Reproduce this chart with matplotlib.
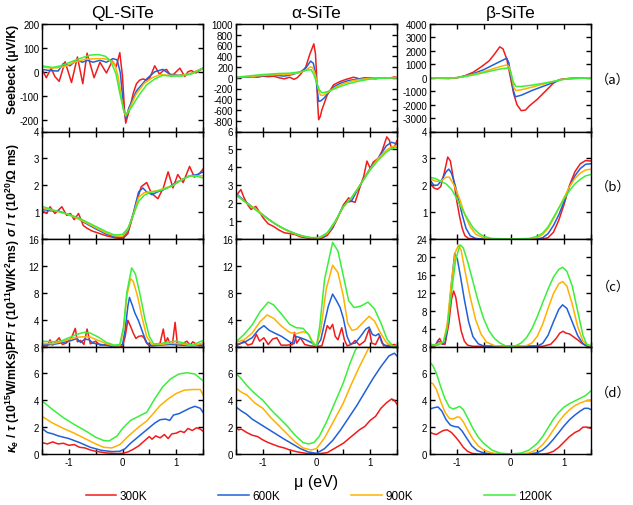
import matplotlib
matplotlib.use("Agg")
import matplotlib.pyplot as plt
import numpy as np

plt.rcParams['font.family'] = ['Liberation Sans', 'DejaVu Sans']
plt.rcParams['axes.unicode_minus'] = False
plt.rcParams['mathtext.fontset'] = 'custom'
plt.rcParams['mathtext.rm'] = 'Liberation Sans:bold'
plt.rcParams['mathtext.it'] = 'Liberation Sans:italic:bold'
plt.rcParams['mathtext.bf'] = 'Liberation Sans:bold'

temps = ['300K', '600K', '900K', '1200K']
colors = ['#f01c1c', '#2060d8', '#ffb000', '#3cee3c']
materials = ['QL-SiTe', 'α-SiTe', 'β-SiTe']
row_tags = ['（a）', '（b）', '（c）', '（d）']

# ---------------- QL-SiTe ----------------
ql_S_300 = [(-1.5,10),(-1.42,-25),(-1.33,15),(-1.26,-20),(-1.18,-40),(-1.07,42),(-0.95,-45),(-0.84,62),(-0.74,-50),(-0.66,78),(-0.53,-25),(-0.42,40),(-0.3,-5),(-0.19,45),(-0.12,20),(-0.05,80),(0.0,-20),(0.04,-170),(0.06,-215),(0.09,-190),(0.14,-150),(0.2,-90),(0.26,-50),(0.32,-35),(0.38,-30),(0.45,-35),(0.51,-25),(0.6,25),(0.69,-10),(0.76,5),(0.82,10),(0.91,-20),(1.0,0),(1.07,15),(1.16,-20),(1.22,0),(1.28,5),(1.37,-5),(1.43,5),(1.5,15)]
ql_S_600 = [(-1.5,10),(-1.35,5),(-1.2,3),(-1.1,35),(-0.98,25),(-0.85,50),(-0.75,40),(-0.65,48),(-0.55,40),(-0.42,48),(-0.3,40),(-0.18,55),(-0.1,50),(-0.04,-5),(0.02,-150),(0.06,-195),(0.12,-150),(0.26,-80),(0.45,-30),(0.6,0),(0.75,10),(0.88,-10),(1.05,-15),(1.25,-10),(1.4,5),(1.5,15)]
ql_S_900 = [(-1.5,20),(-1.3,15),(-1.1,20),(-0.9,40),(-0.7,52),(-0.5,55),(-0.35,55),(-0.25,50),(-0.15,35),(-0.08,-20),(-0.02,-110),(0.03,-170),(0.06,-185),(0.12,-160),(0.25,-95),(0.4,-50),(0.55,-25),(0.7,-12),(0.9,-15),(1.1,-15),(1.3,-5),(1.5,15)]
ql_S_1200 = [(-1.5,25),(-1.3,18),(-1.15,25),(-1.0,38),(-0.8,55),(-0.6,70),(-0.45,72),(-0.32,65),(-0.22,45),(-0.12,-10),(-0.05,-90),(0.02,-160),(0.07,-180),(0.15,-155),(0.3,-100),(0.45,-55),(0.6,-30),(0.75,-15),(0.9,-18),(1.1,-18),(1.3,-8),(1.5,15)]

ql_sig_300 = [(-1.5,1.05),(-1.41,0.95),(-1.35,1.2),(-1.26,0.95),(-1.13,1.2),(-1.04,0.88),(-0.97,0.95),(-0.9,0.72),(-0.82,0.95),(-0.73,0.5),(-0.66,0.4),(-0.57,0.3),(-0.45,0.22),(-0.3,0.12),(-0.15,0.05),(0.0,0.0),(0.1,0.2),(0.2,0.9),(0.28,1.5),(0.35,1.95),(0.45,2.1),(0.54,1.7),(0.66,1.5),(0.76,1.9),(0.85,2.5),(0.94,1.9),(1.03,2.4),(1.13,2.1),(1.25,2.7),(1.34,2.3),(1.44,2.45),(1.5,2.6)]
ql_sig_600 = [(-1.5,1.1),(-1.35,1.05),(-1.2,1.05),(-1.0,0.9),(-0.85,0.8),(-0.7,0.6),(-0.5,0.38),(-0.3,0.18),(-0.15,0.08),(0.0,0.05),(0.1,0.3),(0.2,0.95),(0.3,1.75),(0.38,1.9),(0.45,1.75),(0.55,1.65),(0.65,1.75),(0.75,1.82),(0.88,1.95),(1.0,2.1),(1.1,2.2),(1.25,2.35),(1.4,2.4),(1.5,2.5)]
ql_sig_900 = [(-1.5,1.15),(-1.25,1.05),(-1.0,0.9),(-0.75,0.68),(-0.5,0.42),(-0.3,0.22),(-0.15,0.12),(0.0,0.1),(0.1,0.35),(0.2,0.9),(0.3,1.55),(0.4,1.72),(0.5,1.75),(0.65,1.8),(0.8,1.9),(0.95,2.0),(1.1,2.2),(1.25,2.35),(1.4,2.35),(1.5,2.35)]
ql_sig_1200 = [(-1.5,1.22),(-1.25,1.05),(-1.0,0.92),(-0.75,0.72),(-0.5,0.47),(-0.3,0.27),(-0.15,0.15),(0.0,0.17),(0.1,0.4),(0.2,0.88),(0.3,1.4),(0.4,1.62),(0.5,1.72),(0.7,1.8),(0.9,1.95),(1.1,2.2),(1.25,2.35),(1.4,2.33),(1.5,2.27)]

ql_pf_300 = [(-1.5,0.1),(-1.4,0.1),(-1.35,1.0),(-1.3,0.2),(-1.18,1.3),(-1.12,0.3),(-1.05,0.5),(-0.95,1.3),(-0.88,2.7),(-0.84,0.7),(-0.78,0.9),(-0.72,0.3),(-0.66,2.6),(-0.6,0.4),(-0.5,0.8),(-0.42,0.2),(-0.3,0.3),(-0.2,0.05),(0.0,0.0),(0.05,1.5),(0.1,3.9),(0.15,3.0),(0.2,2.0),(0.25,1.2),(0.3,1.5),(0.36,1.6),(0.4,1.3),(0.45,0.5),(0.5,0.1),(0.6,0.2),(0.7,0.5),(0.76,2.6),(0.8,0.5),(0.84,1.3),(0.88,0.5),(0.93,0.3),(0.98,3.6),(1.02,0.5),(1.1,0.3),(1.2,0.8),(1.26,0.2),(1.31,0.7),(1.4,0.2),(1.5,0.5)]
ql_pf_600 = [(-1.5,0.2),(-1.3,0.3),(-1.1,0.6),(-0.95,0.9),(-0.85,1.2),(-0.78,0.6),(-0.7,1.1),(-0.62,1.0),(-0.55,0.5),(-0.4,0.3),(-0.25,0.1),(-0.1,0.0),(0.0,0.3),(0.05,2.5),(0.1,6.0),(0.13,7.3),(0.18,6.2),(0.23,5.0),(0.3,3.8),(0.38,2.0),(0.45,0.6),(0.55,0.1),(0.7,0.2),(0.9,0.3),(1.1,0.2),(1.3,0.1),(1.5,0.2)]
ql_pf_900 = [(-1.5,0.5),(-1.3,0.4),(-1.1,0.8),(-0.9,1.3),(-0.75,1.45),(-0.6,1.4),(-0.45,0.9),(-0.3,0.4),(-0.15,0.1),(-0.05,0.1),(0.02,2.5),(0.08,7.5),(0.15,10.1),(0.2,9.7),(0.28,7.5),(0.36,4.5),(0.45,1.5),(0.55,0.3),(0.7,0.3),(0.9,0.5),(1.1,0.4),(1.3,0.1),(1.5,0.5)]
ql_pf_1200 = [(-1.5,0.8),(-1.3,0.7),(-1.15,0.8),(-1.0,1.3),(-0.85,1.8),(-0.72,2.1),(-0.6,2.0),(-0.45,1.4),(-0.3,0.6),(-0.15,0.2),(-0.05,0.3),(0.02,3.0),(0.08,8.0),(0.17,11.7),(0.24,10.8),(0.32,8.0),(0.42,4.0),(0.5,1.5),(0.58,0.4),(0.7,0.4),(0.85,0.7),(1.0,0.8),(1.15,0.5),(1.3,0.2),(1.5,0.9)]

ql_k_300 = [(-1.5,0.85),(-1.4,0.75),(-1.3,0.9),(-1.2,0.75),(-1.1,0.8),(-1.0,0.65),(-0.9,0.7),(-0.8,0.5),(-0.7,0.45),(-0.6,0.3),(-0.5,0.2),(-0.3,0.08),(-0.1,0.03),(0.0,0.05),(0.1,0.15),(0.2,0.35),(0.3,0.6),(0.4,0.95),(0.5,1.3),(0.55,1.1),(0.62,1.35),(0.7,1.2),(0.78,1.45),(0.85,1.15),(0.92,1.5),(1.0,1.55),(1.08,1.7),(1.15,1.6),(1.22,1.9),(1.3,1.75),(1.38,1.95),(1.45,1.85),(1.5,1.7)]
ql_k_600 = [(-1.5,1.9),(-1.4,1.6),(-1.3,1.5),(-1.2,1.35),(-1.0,1.15),(-0.8,0.85),(-0.6,0.5),(-0.4,0.28),(-0.2,0.18),(-0.05,0.2),(0.05,0.4),(0.15,0.8),(0.3,1.3),(0.45,1.8),(0.6,2.3),(0.7,2.55),(0.8,2.6),(0.88,2.5),(0.95,2.9),(1.05,3.0),(1.15,3.2),(1.25,3.4),(1.35,3.55),(1.45,3.4),(1.5,3.1)]
ql_k_900 = [(-1.5,2.8),(-1.3,2.3),(-1.1,1.9),(-0.9,1.55),(-0.7,1.15),(-0.5,0.75),(-0.35,0.5),(-0.2,0.45),(-0.05,0.7),(0.1,1.3),(0.3,2.0),(0.45,2.45),(0.55,2.9),(0.7,3.6),(0.85,4.1),(1.0,4.5),(1.15,4.75),(1.3,4.8),(1.45,4.8),(1.5,4.4)]
ql_k_1200 = [(-1.5,3.95),(-1.3,3.3),(-1.1,2.7),(-0.9,2.2),(-0.7,1.75),(-0.5,1.25),(-0.35,1.0),(-0.25,0.97),(-0.1,1.35),(0.0,1.9),(0.15,2.5),(0.3,2.8),(0.45,3.1),(0.6,4.1),(0.75,5.0),(0.9,5.6),(1.05,5.95),(1.2,6.05),(1.35,5.95),(1.5,5.45)]

# ---------------- alpha-SiTe ----------------
al_S_300 = [(-1.5,0),(-1.35,10),(-1.2,20),(-1.1,10),(-1.0,30),(-0.9,20),(-0.8,30),(-0.7,0),(-0.6,-20),(-0.5,10),(-0.42,-30),(-0.36,0),(-0.3,60),(-0.2,200),(-0.12,450),(-0.05,630),(-0.02,450),(0.0,100),(0.02,-450),(0.04,-780),(0.07,-720),(0.1,-600),(0.2,-320),(0.32,-130),(0.44,-70),(0.55,-30),(0.69,10),(0.8,-20),(0.9,0),(1.0,-10),(1.1,-20),(1.2,0),(1.35,-10),(1.45,15),(1.5,5)]
al_S_600 = [(-1.5,0),(-1.2,20),(-1.0,40),(-0.8,50),(-0.6,30),(-0.45,60),(-0.3,110),(-0.2,180),(-0.11,310),(-0.06,270),(-0.02,100),(0.01,-200),(0.04,-440),(0.08,-430),(0.14,-380),(0.22,-280),(0.32,-170),(0.45,-100),(0.6,-50),(0.8,-20),(1.0,-5),(1.2,-5),(1.5,0)]
al_S_900 = [(-1.5,5),(-1.2,25),(-1.0,45),(-0.7,60),(-0.5,65),(-0.3,100),(-0.2,140),(-0.12,200),(-0.07,190),(-0.02,50),(0.03,-200),(0.07,-320),(0.12,-330),(0.2,-280),(0.35,-180),(0.5,-110),(0.7,-50),(0.9,-20),(1.1,-5),(1.5,0)]
al_S_1200 = [(-1.5,10),(-1.2,40),(-1.0,60),(-0.7,80),(-0.5,85),(-0.3,110),(-0.18,140),(-0.1,150),(-0.05,60),(0.0,-80),(0.05,-220),(0.1,-280),(0.18,-265),(0.3,-220),(0.45,-160),(0.6,-110),(0.8,-60),(1.0,-25),(1.2,-10),(1.5,0)]

al_sig_300 = [(-1.5,2.4),(-1.41,2.76),(-1.35,2.3),(-1.28,1.9),(-1.22,1.65),(-1.13,1.82),(-1.05,1.45),(-1.0,1.2),(-0.9,0.85),(-0.8,0.7),(-0.7,0.5),(-0.6,0.35),(-0.5,0.3),(-0.4,0.25),(-0.3,0.12),(-0.15,0.05),(0.0,0.0),(0.1,0.05),(0.2,0.2),(0.3,0.6),(0.4,1.2),(0.5,1.9),(0.6,2.3),(0.66,2.1),(0.72,2.05),(0.8,2.8),(0.88,3.5),(0.94,4.35),(1.0,3.95),(1.06,4.3),(1.15,4.5),(1.22,4.9),(1.31,5.7),(1.36,5.5),(1.4,5.0),(1.46,5.2),(1.5,5.5)]
al_sig_600 = [(-1.5,2.55),(-1.35,2.15),(-1.2,1.8),(-1.0,1.35),(-0.8,0.9),(-0.6,0.55),(-0.4,0.3),(-0.2,0.1),(0.0,0.03),(0.15,0.15),(0.3,0.65),(0.45,1.55),(0.55,2.05),(0.65,2.1),(0.8,2.95),(1.0,3.95),(1.15,4.5),(1.3,5.2),(1.4,5.4),(1.5,5.3)]
al_sig_900 = [(-1.5,2.5),(-1.3,2.0),(-1.1,1.6),(-0.9,1.1),(-0.7,0.7),(-0.5,0.4),(-0.3,0.18),(-0.1,0.06),(0.05,0.05),(0.2,0.3),(0.35,0.95),(0.5,1.8),(0.65,2.3),(0.8,2.95),(1.0,3.9),(1.15,4.5),(1.3,4.95),(1.4,5.15),(1.5,5.2)]
al_sig_1200 = [(-1.5,2.45),(-1.3,2.0),(-1.1,1.55),(-0.9,1.1),(-0.7,0.72),(-0.5,0.42),(-0.3,0.2),(-0.1,0.08),(0.05,0.08),(0.2,0.35),(0.35,1.0),(0.5,1.8),(0.65,2.3),(0.8,2.95),(1.0,3.85),(1.15,4.4),(1.3,4.85),(1.4,5.05),(1.5,5.1)]

al_pf_300 = [(-1.5,0.1),(-1.42,0.4),(-1.35,0.8),(-1.28,0.2),(-1.2,0.4),(-1.12,1.8),(-1.06,0.8),(-0.98,1.3),(-0.9,0.3),(-0.82,1.1),(-0.74,1.3),(-0.66,0.2),(-0.55,0.2),(-0.45,0.3),(-0.41,2.1),(-0.37,0.5),(-0.3,1.3),(-0.22,0.3),(-0.12,0.1),(0.0,0.0),(0.1,0.1),(0.15,1.5),(0.2,3.1),(0.25,2.6),(0.3,3.3),(0.35,1.5),(0.4,1.0),(0.47,2.8),(0.52,1.0),(0.57,0.1),(0.65,0.3),(0.72,0.9),(0.8,0.2),(0.9,0.8),(0.98,2.6),(1.03,0.5),(1.1,0.3),(1.18,1.6),(1.25,0.1),(1.35,0.2),(1.45,0.3),(1.5,0.1)]
al_pf_600 = [(-1.5,0.3),(-1.35,0.6),(-1.2,1.3),(-1.08,2.5),(-0.98,3.1),(-0.88,2.4),(-0.78,2.0),(-0.65,1.5),(-0.5,0.7),(-0.42,0.4),(-0.38,1.5),(-0.3,1.3),(-0.2,1.0),(-0.1,0.6),(0.0,0.1),(0.08,1.0),(0.15,3.5),(0.22,6.0),(0.3,7.8),(0.36,7.0),(0.44,5.8),(0.5,4.2),(0.57,1.5),(0.63,0.4),(0.72,0.5),(0.82,1.5),(0.92,2.6),(0.98,2.9),(1.04,1.8),(1.1,1.6),(1.16,1.9),(1.22,0.5),(1.3,0.05),(1.5,0.0)]
al_pf_900 = [(-1.5,0.6),(-1.35,1.0),(-1.2,2.0),(-1.05,3.7),(-0.92,4.7),(-0.8,4.2),(-0.65,3.0),(-0.5,2.1),(-0.38,1.9),(-0.25,2.2),(-0.15,1.9),(-0.08,0.8),(0.0,0.1),(0.08,2.5),(0.18,8.5),(0.3,12.1),(0.4,11.0),(0.5,7.5),(0.58,3.5),(0.66,2.4),(0.75,2.6),(0.87,3.6),(0.98,4.5),(1.08,3.8),(1.18,2.2),(1.3,0.6),(1.4,0.1),(1.5,0.0)]
al_pf_1200 = [(-1.5,0.7),(-1.35,1.8),(-1.2,3.2),(-1.05,5.2),(-0.9,6.6),(-0.8,6.2),(-0.65,4.8),(-0.5,3.3),(-0.38,2.8),(-0.25,2.7),(-0.15,1.8),(-0.06,0.3),(0.0,0.1),(0.06,3.0),(0.15,10.0),(0.3,15.5),(0.4,14.2),(0.5,10.5),(0.6,6.8),(0.7,5.8),(0.82,6.0),(0.96,6.6),(1.08,5.6),(1.2,3.5),(1.32,1.0),(1.42,0.1),(1.5,0.0)]

al_k_300 = [(-1.5,1.95),(-1.45,1.8),(-1.4,1.85),(-1.3,1.6),(-1.2,1.4),(-1.1,1.3),(-1.0,1.05),(-0.9,0.85),(-0.8,0.7),(-0.7,0.55),(-0.6,0.45),(-0.5,0.3),(-0.35,0.15),(-0.2,0.05),(0.0,0.0),(0.2,0.1),(0.35,0.45),(0.5,0.8),(0.65,1.3),(0.8,1.8),(0.9,2.05),(1.0,2.5),(1.1,2.8),(1.2,3.4),(1.3,3.8),(1.4,4.1),(1.45,4.0),(1.5,3.7)]
al_k_600 = [(-1.5,3.5),(-1.4,3.2),(-1.3,2.95),(-1.2,2.6),(-1.0,2.1),(-0.8,1.6),(-0.6,1.1),(-0.45,0.75),(-0.3,0.4),(-0.15,0.15),(0.0,0.05),(0.15,0.4),(0.3,1.0),(0.45,1.8),(0.6,2.7),(0.75,3.6),(0.9,4.6),(1.05,5.6),(1.2,6.5),(1.35,7.3),(1.45,7.5),(1.5,7.3)]
al_k_900 = [(-1.5,4.9),(-1.4,4.6),(-1.3,4.4),(-1.15,3.8),(-1.0,3.4),(-0.85,2.7),(-0.7,2.1),(-0.55,1.5),(-0.4,0.9),(-0.25,0.45),(-0.1,0.3),(0.0,0.4),(0.15,1.2),(0.3,2.3),(0.5,3.8),(0.65,5.2),(0.8,6.5),(0.9,7.3),(1.0,8.1)]
al_k_1200 = [(-1.5,6.0),(-1.4,5.6),(-1.3,5.1),(-1.15,4.5),(-1.0,4.0),(-0.85,3.3),(-0.7,2.7),(-0.55,2.1),(-0.4,1.4),(-0.25,0.85),(-0.15,0.75),(-0.05,0.85),(0.05,1.3),(0.2,2.5),(0.35,3.9),(0.5,5.3),(0.62,6.7),(0.72,7.7),(0.8,8.2)]

# ---------------- beta-SiTe ----------------
be_S_300 = [(-1.5,0),(-1.3,-40),(-1.15,-50),(-1.0,0),(-0.85,150),(-0.7,400),(-0.55,800),(-0.4,1250),(-0.3,1750),(-0.2,2300),(-0.14,2150),(-0.07,1400),(0.0,0),(0.06,-1200),(0.12,-2000),(0.2,-2450),(0.28,-2400),(0.35,-2100),(0.5,-1600),(0.65,-1000),(0.8,-400),(0.9,-150),(1.0,-80),(1.2,-30),(1.35,-10),(1.5,0)]
be_S_600 = [(-1.5,0),(-1.3,-40),(-1.15,-50),(-1.0,0),(-0.85,120),(-0.7,300),(-0.5,600),(-0.3,1000),(-0.15,1300),(-0.07,1450),(-0.03,1100),(0.0,300),(0.05,-900),(0.09,-1420),(0.2,-1300),(0.4,-950),(0.6,-650),(0.8,-350),(0.95,-130),(1.1,-60),(1.3,-20),(1.5,0)]
be_S_900 = [(-1.5,0),(-1.3,-30),(-1.15,-40),(-1.0,0),(-0.85,110),(-0.7,250),(-0.5,450),(-0.3,700),(-0.15,880),(-0.07,950),(-0.03,850),(0.02,100),(0.06,-700),(0.1,-950),(0.2,-900),(0.4,-700),(0.6,-480),(0.8,-280),(0.95,-130),(1.1,-60),(1.3,-20),(1.5,0)]
be_S_1200 = [(-1.5,0),(-1.3,-20),(-1.15,-20),(-1.0,10),(-0.85,90),(-0.7,200),(-0.5,380),(-0.3,560),(-0.15,680),(-0.05,720),(0.0,500),(0.05,-300),(0.1,-650),(0.2,-650),(0.4,-550),(0.6,-420),(0.8,-270),(0.95,-140),(1.1,-80),(1.3,-40),(1.5,-20)]

be_sig_300 = [(-1.5,2.1),(-1.43,1.9),(-1.36,1.85),(-1.3,1.95),(-1.23,2.5),(-1.17,3.05),(-1.12,2.9),(-1.06,2.2),(-1.0,1.4),(-0.95,0.85),(-0.9,0.4),(-0.85,0.12),(-0.78,0.02),(-0.6,0.0),(0.6,0.0),(0.7,0.05),(0.8,0.25),(0.9,0.7),(1.0,1.3),(1.1,2.0),(1.2,2.5),(1.3,2.8),(1.4,2.92),(1.5,2.9)]
be_sig_600 = [(-1.5,2.2),(-1.43,2.0),(-1.36,2.0),(-1.28,2.2),(-1.2,2.5),(-1.15,2.6),(-1.1,2.45),(-1.03,2.0),(-0.96,1.4),(-0.9,0.9),(-0.83,0.4),(-0.75,0.12),(-0.65,0.02),(-0.5,0.0),(0.5,0.0),(0.6,0.05),(0.7,0.2),(0.8,0.5),(0.9,0.9),(1.0,1.4),(1.1,1.95),(1.2,2.35),(1.3,2.62),(1.4,2.78),(1.5,2.8)]
be_sig_900 = [(-1.5,2.25),(-1.4,2.15),(-1.3,2.15),(-1.2,2.3),(-1.14,2.3),(-1.05,2.0),(-0.95,1.5),(-0.85,0.9),(-0.75,0.45),(-0.65,0.18),(-0.5,0.04),(-0.35,0.0),(0.35,0.0),(0.5,0.05),(0.6,0.17),(0.7,0.4),(0.8,0.75),(0.9,1.15),(1.0,1.55),(1.1,1.95),(1.2,2.25),(1.3,2.45),(1.4,2.57),(1.5,2.6)]
be_sig_1200 = [(-1.5,2.3),(-1.4,2.25),(-1.3,2.15),(-1.2,2.05),(-1.1,1.85),(-1.0,1.5),(-0.9,1.1),(-0.8,0.75),(-0.7,0.42),(-0.6,0.22),(-0.5,0.1),(-0.35,0.02),(0.0,0.0),(0.35,0.02),(0.5,0.1),(0.6,0.22),(0.7,0.45),(0.8,0.8),(0.9,1.15),(1.0,1.5),(1.1,1.8),(1.2,2.05),(1.3,2.22),(1.4,2.35),(1.5,2.4)]

be_pf_300 = [(-1.5,0.2),(-1.4,0.2),(-1.36,1.2),(-1.32,1.8),(-1.27,0.5),(-1.22,0.5),(-1.15,5.0),(-1.1,10.5),(-1.06,12.4),(-1.02,11.0),(-0.97,7.0),(-0.92,3.5),(-0.86,1.2),(-0.8,0.3),(-0.7,0.05),(0.6,0.05),(0.75,0.5),(0.85,1.8),(0.92,3.0),(0.98,3.4),(1.03,3.0),(1.1,2.8),(1.18,2.1),(1.25,1.5),(1.32,0.8),(1.4,0.2),(1.5,0.0)]
be_pf_600 = [(-1.5,0.2),(-1.4,0.3),(-1.34,1.2),(-1.28,0.6),(-1.22,0.8),(-1.16,6.0),(-1.1,14.0),(-1.04,20.8),(-0.99,19.5),(-0.93,15.5),(-0.86,10.5),(-0.78,5.5),(-0.7,2.2),(-0.6,0.6),(-0.5,0.1),(0.0,0.0),(0.5,0.1),(0.6,0.7),(0.7,2.5),(0.8,5.5),(0.9,8.3),(0.97,9.3),(1.05,8.5),(1.15,5.5),(1.25,2.5),(1.35,0.6),(1.45,0.1),(1.5,0.0)]
be_pf_900 = [(-1.5,0.5),(-1.4,0.3),(-1.32,0.8),(-1.25,1.0),(-1.18,5.0),(-1.1,14.5),(-1.03,21.0),(-0.97,22.6),(-0.92,21.5),(-0.85,17.0),(-0.75,11.0),(-0.65,6.0),(-0.55,2.8),(-0.45,1.0),(-0.3,0.2),(0.0,0.0),(0.3,0.2),(0.4,0.8),(0.5,2.3),(0.6,5.0),(0.7,8.5),(0.8,11.8),(0.9,14.0),(0.97,14.5),(1.05,13.5),(1.15,9.5),(1.25,4.5),(1.35,1.2),(1.45,0.2),(1.5,0.0)]
be_pf_1200 = [(-1.5,0.4),(-1.35,0.3),(-1.25,1.0),(-1.18,4.0),(-1.1,12.0),(-1.02,19.5),(-0.94,22.7),(-0.88,22.0),(-0.8,19.0),(-0.7,14.5),(-0.6,10.0),(-0.5,6.2),(-0.4,3.5),(-0.3,1.8),(-0.2,0.8),(-0.1,0.2),(0.0,0.0),(0.1,0.2),(0.2,0.8),(0.3,2.0),(0.4,4.0),(0.5,6.7),(0.6,9.8),(0.7,12.8),(0.8,15.5),(0.9,17.2),(0.97,17.7),(1.05,16.8),(1.15,13.5),(1.25,8.0),(1.35,2.5),(1.42,0.5),(1.5,0.2)]

be_k_300 = [(-1.5,1.6),(-1.43,1.5),(-1.38,1.45),(-1.32,1.6),(-1.25,1.75),(-1.18,1.8),(-1.1,1.6),(-1.02,1.25),(-0.95,0.9),(-0.88,0.5),(-0.8,0.2),(-0.72,0.05),(-0.6,0.0),(0.6,0.0),(0.7,0.05),(0.8,0.2),(0.9,0.5),(1.0,0.9),(1.1,1.3),(1.2,1.6),(1.28,1.75),(1.35,2.0),(1.42,2.0),(1.5,1.9)]
be_k_600 = [(-1.5,3.35),(-1.42,3.45),(-1.35,3.5),(-1.28,3.2),(-1.2,2.55),(-1.12,2.15),(-1.05,2.05),(-0.97,2.0),(-0.9,1.7),(-0.82,1.2),(-0.72,0.6),(-0.62,0.25),(-0.5,0.08),(-0.35,0.0),(0.35,0.0),(0.5,0.1),(0.6,0.3),(0.7,0.65),(0.8,1.1),(0.9,1.6),(1.0,2.1),(1.1,2.55),(1.2,2.9),(1.3,3.2),(1.38,3.4),(1.45,3.4),(1.5,3.3)]
be_k_900 = [(-1.5,5.3),(-1.45,5.25),(-1.38,4.8),(-1.3,3.9),(-1.22,3.1),(-1.14,2.65),(-1.07,2.6),(-1.0,2.75),(-0.95,2.75),(-0.88,2.4),(-0.8,1.8),(-0.7,1.1),(-0.6,0.6),(-0.5,0.3),(-0.35,0.08),(-0.2,0.0),(0.2,0.0),(0.35,0.08),(0.5,0.35),(0.6,0.7),(0.7,1.2),(0.8,1.8),(0.9,2.4),(1.0,2.9),(1.1,3.3),(1.2,3.6),(1.3,3.8),(1.4,3.95),(1.5,4.0)]
be_k_1200 = [(-1.5,6.8),(-1.45,6.6),(-1.38,6.0),(-1.3,5.0),(-1.22,4.1),(-1.14,3.5),(-1.07,3.35),(-1.0,3.45),(-0.95,3.55),(-0.88,3.3),(-0.8,2.7),(-0.7,1.9),(-0.6,1.25),(-0.5,0.8),(-0.35,0.3),(-0.2,0.07),(0.0,0.0),(0.2,0.07),(0.35,0.3),(0.5,0.8),(0.6,1.3),(0.7,1.95),(0.8,2.6),(0.9,3.1),(1.0,3.5),(1.1,3.75),(1.2,3.95),(1.3,4.15),(1.4,4.35),(1.5,4.7)]

# rows x columns of curve sets
grid = [
    [[ql_S_300, ql_S_600, ql_S_900, ql_S_1200],
     [al_S_300, al_S_600, al_S_900, al_S_1200],
     [be_S_300, be_S_600, be_S_900, be_S_1200]],
    [[ql_sig_300, ql_sig_600, ql_sig_900, ql_sig_1200],
     [al_sig_300, al_sig_600, al_sig_900, al_sig_1200],
     [be_sig_300, be_sig_600, be_sig_900, be_sig_1200]],
    [[ql_pf_300, ql_pf_600, ql_pf_900, ql_pf_1200],
     [al_pf_300, al_pf_600, al_pf_900, al_pf_1200],
     [be_pf_300, be_pf_600, be_pf_900, be_pf_1200]],
    [[ql_k_300, ql_k_600, ql_k_900, ql_k_1200],
     [al_k_300, al_k_600, al_k_900, al_k_1200],
     [be_k_300, be_k_600, be_k_900, be_k_1200]],
]

# y ranges and tick steps per panel
ylims = [[(-250, 200), (-1000, 1000), (-4000, 4000)],
         [(0, 4), (0, 6), (0, 4)],
         [(0, 16), (0, 16), (0, 24)],
         [(0, 8), (0, 8), (0, 8)]]
ysteps = [[100, 200, 1000], [1, 1, 1], [4, 4, 4], [2, 2, 2]]

ylabels = ['Seebeck (μV/K)',
           r'$\sigma$ / $\tau$ (10$^{20}$/$\Omega$ ms)',
           r'PF/ $\tau$ (10$^{11}$W/K$^{2}$ms)',
           r'$\kappa_e$ / $\tau$ (10$^{15}$W/mKs)']

W, H = 633, 506
fig = plt.figure(figsize=(W / 100, H / 100), dpi=100)

col_left = [42, 236, 430]
col_w = 161
row_top = [25, 132.5, 240, 347.5]
row_h = 107.5

for r in range(4):
    for c in range(3):
        ax = fig.add_axes([col_left[c] / W, 1 - (row_top[r] + row_h) / H, col_w / W, row_h / H])
        for i, curve in enumerate(grid[r][c]):
            xs = [p[0] for p in curve]
            ys = [p[1] for p in curve]
            ax.plot(xs, ys, color=colors[i], lw=1.1)
        ax.set_xlim(-1.5, 1.5)
        lo, hi = ylims[r][c]
        ax.set_ylim(lo, hi)
        step = ysteps[r][c]
        first = int(np.ceil(lo / step)) * step
        yt = np.arange(first, hi + step / 2, step)
        ax.set_yticks(yt)
        labs = [str(int(v)) for v in yt]
        if r < 3 and yt[0] == lo:
            labs[0] = ''
        ax.set_yticklabels(labs)
        ax.set_xticks([-1.5, -1, -0.5, 0, 0.5, 1, 1.5])
        if r == 3:
            ax.set_xticklabels(['', '-1', '', '0', '', '1', ''])
        else:
            ax.set_xticklabels([])
        ax.tick_params(direction='in', top=True, right=True, length=3.5, width=1.0,
                       labelsize=7, pad=2)
        for s in ax.spines.values():
            s.set_linewidth(1.0)
        if r == 0:
            ax.set_title(materials[c], fontsize=12.5, pad=5)

row_centers = [69, 190, 295, 400]
for r in range(4):
    fig.text(13 / W, 1 - row_centers[r] / H, ylabels[r], rotation=90, ha='center', va='center',
             fontsize=8.8, fontweight='bold')

tag_y = [80, 187, 287, 393]
for r in range(4):
    fig.text(613 / W, 1 - tag_y[r] / H, row_tags[r], ha='center', va='center', fontsize=9.5,
             family=['Noto Sans CJK SC', 'DejaVu Sans'])

fig.text(316 / W, 1 - 483 / H, 'μ (eV)', ha='center', va='center', fontsize=11.5)

handles = [plt.Line2D([], [], color=colors[i], lw=1.1) for i in range(4)]
fig.legend(handles, temps, loc='center', bbox_to_anchor=(319 / W, 1 - 497 / H), ncol=4,
           frameon=False, fontsize=8.5, handlelength=2.6, columnspacing=6.0, handletextpad=0.3)

fig.savefig('out.png', dpi=100)
